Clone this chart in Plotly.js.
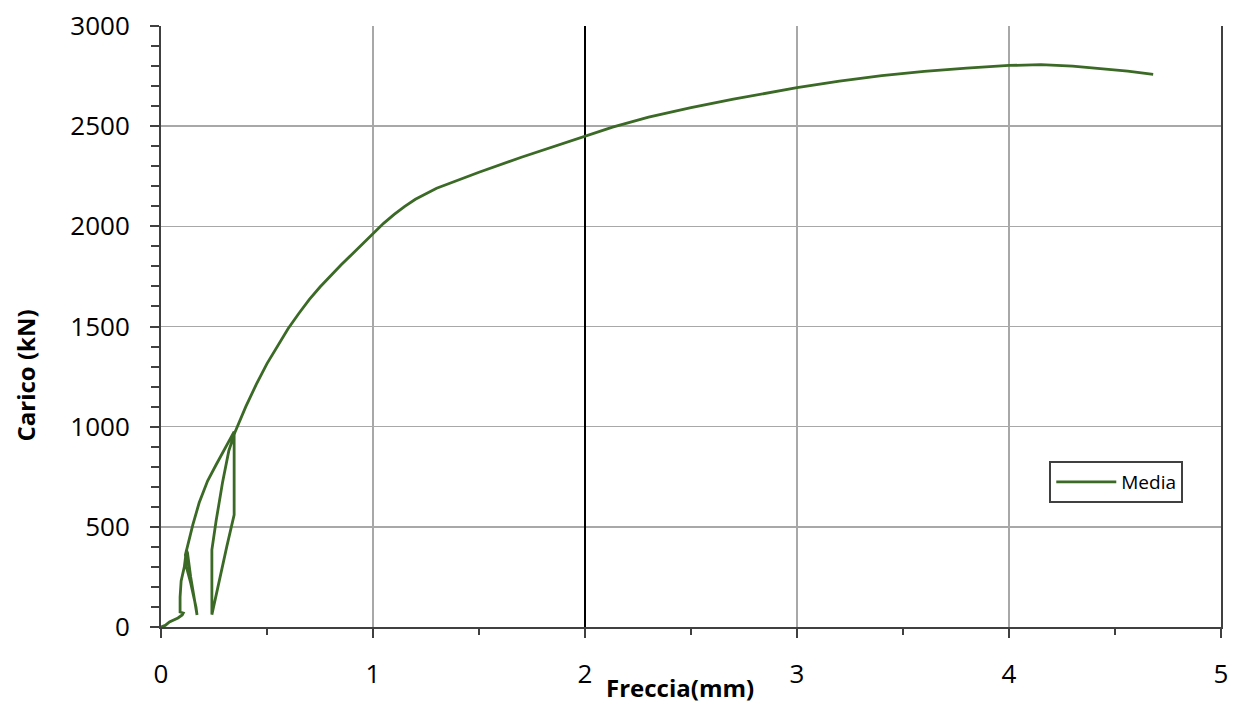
<!DOCTYPE html>
<html>
<head>
<meta charset="utf-8">
<script src="https://cdn.plot.ly/plotly-3.0.1.min.js"></script>
<style>html,body{margin:0;padding:0;background:#fff;}#chart{width:1240px;height:705px;}</style>
</head>
<body>
<div id="chart"></div>
<script>
// Freccia (mm) - deflection
const freccia = [
  0, 0.02, 0.04, 0.06, 0.08, 0.10, 0.105, 0.09, 0.09, 0.095, 0.11, 0.12,
  0.125, 0.14, 0.155, 0.17, 0.165, 0.14, 0.12, 0.115, 0.13, 0.15, 0.18, 0.22,
  0.26, 0.30, 0.33, 0.345, 0.345, 0.345, 0.31, 0.275, 0.24, 0.24, 0.24, 0.26,
  0.29, 0.32, 0.35, 0.40, 0.45, 0.50, 0.55, 0.60, 0.65, 0.70, 0.75, 0.80,
  0.85, 0.90, 0.95, 1.00, 1.05, 1.10, 1.15, 1.20, 1.30, 1.35, 1.50, 1.70,
  1.90, 2.00, 2.13, 2.30, 2.50, 2.70, 2.85, 3.00, 3.20, 3.40, 3.60, 3.80,
  4.00, 4.15, 4.30, 4.44, 4.56, 4.68
];
// Carico (kN) - load
const carico = [
  0, 8, 25, 35, 45, 60, 70, 75, 150, 230, 300, 385,
  370, 250, 150, 60, 100, 220, 300, 360, 430, 510, 620, 730,
  810, 890, 945, 975, 800, 560, 400, 230, 62, 200, 385, 530,
  720, 880, 975, 1100, 1212, 1315, 1405, 1490, 1565, 1635, 1697, 1755,
  1808, 1860, 1912, 1965, 2015, 2060, 2100, 2135, 2190, 2210, 2270, 2345,
  2415, 2452, 2495, 2545, 2592, 2635, 2665, 2692, 2725, 2752, 2773, 2790,
  2803, 2807, 2800, 2787, 2775, 2758
];
const serieNome = "Media";
const xTitolo = "Freccia(mm)";
const yTitolo = "Carico (kN)";
const xGrigliaNera = [2];   // vertical grid line drawn in black

const FONT = "Open Sans, Liberation Sans, sans-serif";

const data = [
  {
    x: freccia, y: carico, type: "scatter", mode: "lines", name: serieNome,
    line: {color: "#3b6a26", width: 2.8},
    xaxis: "x", yaxis: "y"
  },
  {
    // same series bound to the overlay axis so that its black grid line is drawn
    x: freccia, y: carico, type: "scatter", mode: "lines", name: serieNome,
    line: {color: "rgba(0,0,0,0)", width: 0}, showlegend: false, hoverinfo: "skip",
    xaxis: "x2", yaxis: "y"
  }
];

const layout = {
  width: 1240, height: 705,
  margin: {l: 161, r: 19, t: 26, b: 78},
  paper_bgcolor: "#fff", plot_bgcolor: "#fff",
  font: {family: FONT, color: "#000", size: 26},
  showlegend: true,
  legend: {
    x: 0.838, y: 0.276, xanchor: "left", yanchor: "top",
    bgcolor: "#fff", bordercolor: "#404040", borderwidth: 2,
    font: {family: FONT, size: 19, color: "#000"},
    itemwidth: 60, tracegroupgap: 0
  },
  xaxis: {
    range: [0, 5], dtick: 1, tick0: 0, autorange: false,
    showgrid: true, gridcolor: "#a8a8a8", gridwidth: 1.5,
    zeroline: false, showline: true, linecolor: "#404040", linewidth: 2,
    ticks: "outside", ticklen: 9, tickwidth: 2, tickcolor: "#404040",
    ticklabelstandoff: 14,
    minor: {dtick: 0.5, ticks: "outside", ticklen: 6, tickwidth: 2, tickcolor: "#404040", showgrid: false},
    tickfont: {family: FONT, size: 26, color: "#000"}
  },
  xaxis2: {
    overlaying: "x", anchor: "y", side: "bottom", range: [0, 5], autorange: false,
    tickmode: "array", tickvals: xGrigliaNera, showticklabels: false, ticks: "",
    showgrid: true, gridcolor: "#000", gridwidth: 1.5, zeroline: false, showline: false
  },
  yaxis: {
    range: [0, 3000], dtick: 500, tick0: 0, autorange: false,
    showgrid: true, gridcolor: "#a8a8a8", gridwidth: 1.5,
    zeroline: false, showline: true, mirror: true, linecolor: "#404040", linewidth: 2,
    ticks: "outside", ticklen: 9, tickwidth: 2, tickcolor: "#404040",
    ticklabelstandoff: 15,
    minor: {dtick: 100, ticks: "outside", ticklen: 8, tickwidth: 2, tickcolor: "#404040", showgrid: false},
    tickfont: {family: FONT, size: 26, color: "#000"}
  },
  annotations: [
    {text: "<b>" + xTitolo + "</b>", xref: "paper", yref: "paper", x: 0.49, y: -0.10,
     xanchor: "center", yanchor: "middle", showarrow: false,
     font: {family: FONT, size: 24, color: "#000"}},
    {text: "<b>" + yTitolo + "</b>", xref: "paper", yref: "paper", x: -0.128, y: 0.419,
     xanchor: "center", yanchor: "middle", showarrow: false, textangle: -90,
     font: {family: FONT, size: 24, color: "#000"}}
  ]
};

Plotly.newPlot("chart", data, layout, {displayModeBar: false, staticPlot: true});
</script>
</body>
</html>
